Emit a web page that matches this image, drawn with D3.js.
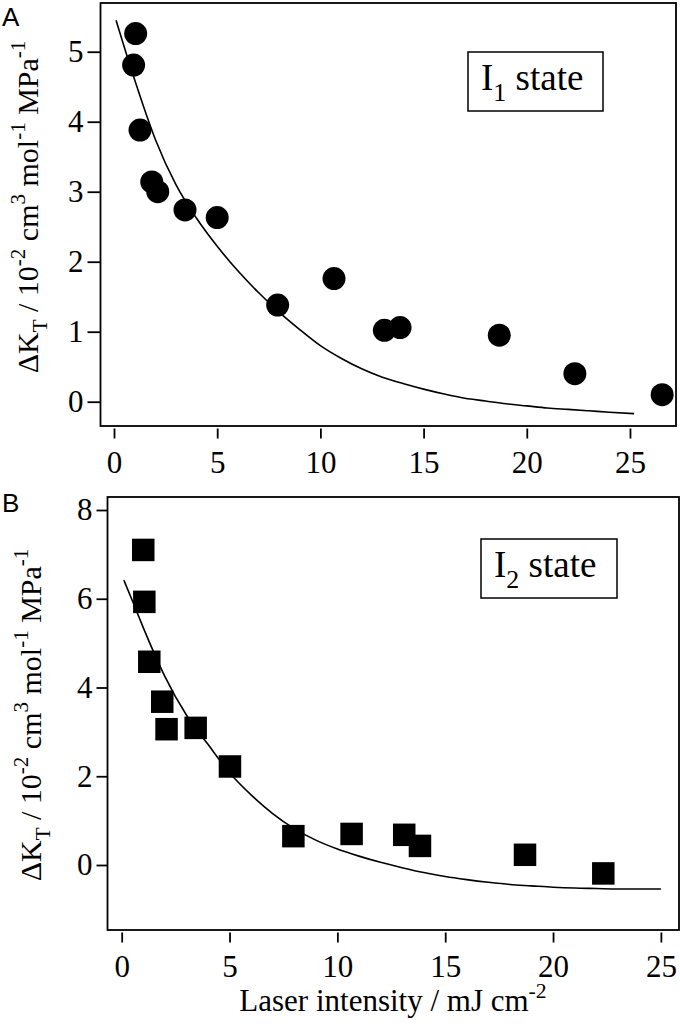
<!DOCTYPE html>
<html>
<head>
<meta charset="utf-8">
<script src="https://cdn.jsdelivr.net/npm/d3@7"></script>
<style>
    body { margin: 0; background: #fff; }
    text { font-family: "Liberation Serif", "Times New Roman", serif; white-space: pre; }
</style>
</head>
<body>
<div id="canvas"></div>
<script>
//Data
// panel A, I1 state (circles)
const xA = [0.95, 1.05, 1.26, 1.83, 2.12, 3.44, 5.0, 7.93, 10.66, 13.1, 13.86, 18.67, 22.33, 26.56];
const yA = [4.81, 5.26, 3.88, 3.14, 3.0, 2.74, 2.63, 1.38, 1.76, 1.02, 1.06, 0.95, 0.40, 0.10];
// fitted curve A
const fitXA = [0.1, 1, 2, 3, 4, 5, 6, 7, 8, 9, 10, 11, 12, 13, 14, 15, 16, 17, 18, 19, 20, 21, 22, 23, 24, 25.2];
const fitYA = [5.45, 4.6, 3.75, 3.1, 2.62, 2.22, 1.87, 1.56, 1.28, 1.03, 0.8, 0.62, 0.47, 0.35, 0.26, 0.18, 0.11, 0.05, 0.01, -0.03, -0.06, -0.09, -0.11, -0.13, -0.15, -0.17];

// panel B, I2 state (squares)
const xB = [1.0, 1.05, 1.28, 1.88, 2.08, 3.43, 5.02, 7.96, 10.66, 13.1, 13.83, 18.7, 22.33];
const yB = [7.10, 5.93, 4.58, 3.68, 3.06, 3.09, 2.22, 0.65, 0.70, 0.68, 0.43, 0.23, -0.19];
// fitted curve B
const fitXB = [0.1, 0.5, 1, 1.5, 2, 3, 4, 5, 6, 7, 8, 9, 10, 11, 12, 13, 14, 15, 16, 17, 18, 19, 20, 21, 22, 23, 25];
const fitYB = [6.42, 5.95, 5.35, 4.78, 4.25, 3.38, 2.72, 2.08, 1.58, 1.16, 0.82, 0.56, 0.36, 0.2, 0.06, -0.06, -0.17, -0.26, -0.33, -0.39, -0.44, -0.47, -0.5, -0.52, -0.53, -0.54, -0.54];

const xTicks = [0, 5, 10, 15, 20, 25];
const yTicksA = [0, 1, 2, 3, 4, 5];
const yTicksB = [0, 2, 4, 6, 8];

const yTitle = [["ΔK", "n"], ["T", "sub"], [" / 10", "n"], ["-2", "sup"], [" cm", "n"], ["3", "sup"],
    [" mol", "n"], ["-1", "sup"], [" MPa", "n"], ["-1", "sup"]];
const xTitle = [["Laser intensity / mJ cm", "n"], ["-2", "sup"]];

const width = 680;
const height = 1028;

var svg = d3.select("#canvas")
    .append("svg")
    .attr("width", width)
    .attr("height", height);

// writes text with sub/superscripts as tspans
function richText(sel, parts, size) {
    let shift = 0;
    parts.forEach(function(p) {
        const target = p[1] === "sup" ? -size * 0.42 : (p[1] === "sub" ? size * 0.3 : 0);
        sel.append("tspan")
            .attr("dy", target - shift)
            .style("font-size", (p[1] === "n" ? size : size * 0.7) + "px")
            .text(p[0]);
        shift = target;
    });
}

function drawPanel(cfg) {
    const x = d3.scaleLinear().domain(cfg.xDomain).range([cfg.left, cfg.right]);
    const y = d3.scaleLinear().domain(cfg.yDomain).range([cfg.bottom, cfg.top]);
    const g = svg.append("g");

    // frame
    g.append("rect")
        .attr("x", cfg.left).attr("y", cfg.top)
        .attr("width", cfg.right - cfg.left).attr("height", cfg.bottom - cfg.top)
        .attr("fill", "none").attr("stroke", "#000").attr("stroke-width", 1.8);

    const yAxis = g.append("g")
        .attr("transform", "translate(" + cfg.left + ",0)")
        .call(d3.axisLeft(y).tickValues(cfg.yTicks).tickSize(cfg.yTickLen).tickPadding(4).tickFormat(d3.format("d")));
    const xAxis = g.append("g")
        .attr("transform", "translate(0," + (cfg.bottom + 2.5) + ")")
        .call(d3.axisBottom(x).tickValues(xTicks).tickSize(10).tickPadding(cfg.xPad).tickFormat(d3.format("d")));

    [yAxis, xAxis].forEach(function(a) {
        a.select(".domain").remove();
        a.selectAll("line").attr("stroke", "#000").attr("stroke-width", 1.8);
        a.selectAll("text")
            .attr("fill", "#000")
            .style("font-family", '"Liberation Serif", "Times New Roman", serif')
            .style("font-size", "31px");
    });

    // fit curve
    const line = d3.line()
        .x((d) => x(d[0]))
        .y((d) => y(d[1]))
        .curve(d3.curveMonotoneX);
    g.append("path")
        .datum(d3.zip(cfg.fitX, cfg.fitY))
        .attr("d", line)
        .attr("fill", "none")
        .attr("stroke", "#000")
        .attr("stroke-width", 1.6);

    // points
    const pts = d3.zip(cfg.xs, cfg.ys);
    if (cfg.marker === "circle") {
        g.selectAll(".pt").data(pts).enter()
            .append("circle")
            .attr("class", "pt")
            .attr("cx", (d) => x(d[0]))
            .attr("cy", (d) => y(d[1]))
            .attr("r", 11.5)
            .attr("fill", "#000");
    } else {
        const s = 22.5;
        g.selectAll(".pt").data(pts).enter()
            .append("rect")
            .attr("class", "pt")
            .attr("x", (d) => x(d[0]) - s / 2)
            .attr("y", (d) => y(d[1]) - s / 2)
            .attr("width", s).attr("height", s)
            .attr("fill", "#000");
    }

    // state label box
    g.append("rect")
        .attr("x", cfg.box[0]).attr("y", cfg.box[1])
        .attr("width", cfg.box[2]).attr("height", cfg.box[3])
        .attr("fill", "#fff").attr("stroke", "#000").attr("stroke-width", 1.5);
    const lab = g.append("text")
        .attr("x", cfg.box[0] + 13)
        .attr("y", cfg.box[1] + 38);
    richText(lab, [["I", "n"], [cfg.sub, "sub"], [" state", "n"]], 37);

    // y title
    const yt = g.append("text")
        .attr("text-anchor", "middle")
        .attr("transform", "translate(" + cfg.yTitlePos[0] + "," + cfg.yTitlePos[1] + ") rotate(-90)");
    richText(yt, yTitle, 30);

    // panel letter
    g.append("text")
        .attr("x", 2).attr("y", cfg.letterY)
        .style("font-family", '"Liberation Sans", Arial, sans-serif')
        .style("font-size", "26px")
        .text(cfg.letter);
}

drawPanel({
    left: 100.5, right: 676, top: 3, bottom: 426,
    xDomain: [-0.654, 27.23], yDomain: [-0.347, 5.696],
    yTicks: yTicksA, yTickLen: 13, xPad: 12,
    xs: xA, ys: yA, fitX: fitXA, fitY: fitYA, marker: "circle",
    box: [468, 52, 135, 59], sub: "1",
    yTitlePos: [38, 207], letter: "A", letterY: 26
});

drawPanel({
    left: 107.5, right: 679, top: 497, bottom: 930,
    xDomain: [-0.658, 25.84], yDomain: [-1.465, 8.293],
    yTicks: yTicksB, yTickLen: 11, xPad: 12,
    xs: xB, ys: yB, fitX: fitXB, fitY: fitYB, marker: "square",
    box: [481, 539, 136, 59], sub: "2",
    yTitlePos: [41, 715], letter: "B", letterY: 512
});

// x title (bottom panel only)
const xt = svg.append("text")
    .attr("text-anchor", "middle")
    .attr("x", 393)
    .attr("y", 1011);
richText(xt, xTitle, 31);
</script>
</body>
</html>
